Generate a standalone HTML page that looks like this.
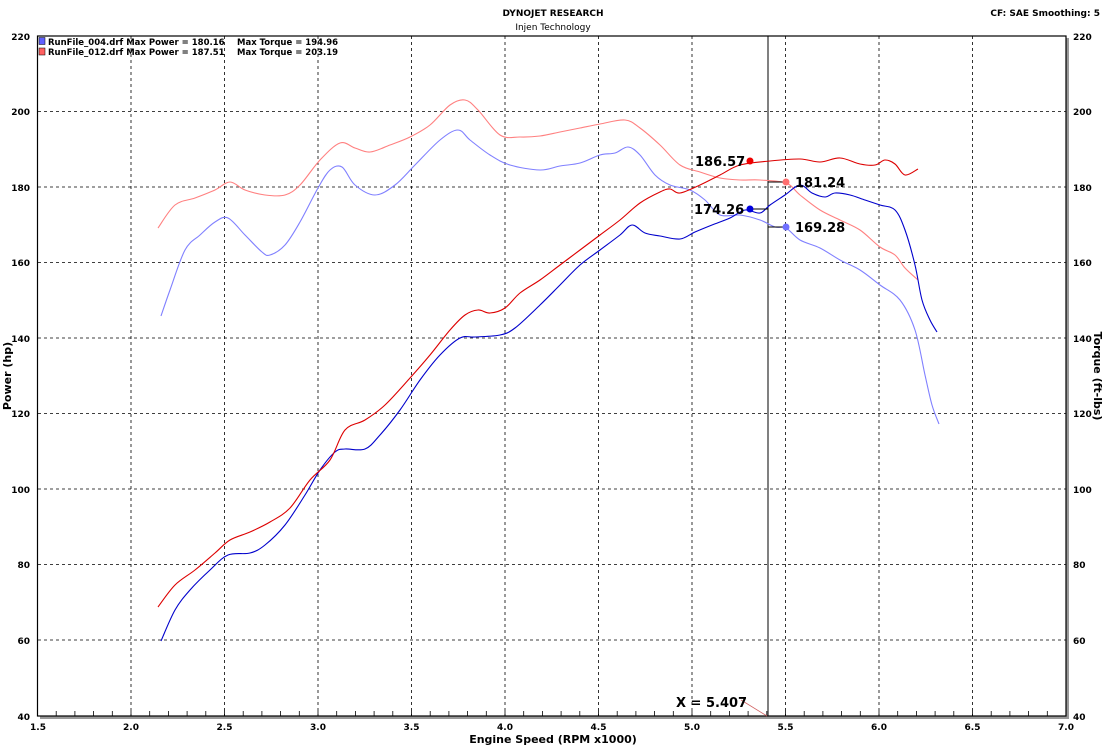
<!DOCTYPE html><html><head><style>body{margin:0;background:#fff}svg{display:block;font-family:"DejaVu Sans","Liberation Sans",sans-serif}</style></head><body>
<svg id="s" width="1108" height="751" viewBox="0 0 1108 751">
<text x="553" y="16" font-size="9" font-weight="bold" text-anchor="middle">DYNOJET RESEARCH</text>
<text x="553" y="30" font-size="9" text-anchor="middle">Injen Technology</text>
<text x="1100" y="16" font-size="9" font-weight="bold" text-anchor="end">CF: SAE  Smoothing: 5</text>
<rect x="40" y="38" width="1029" height="681" fill="#999"/>
<rect x="37.5" y="36" width="1028.5" height="680" fill="#fff" stroke="#000" stroke-width="1.2"/>
<g stroke="#000" stroke-width="0.8" stroke-dasharray="3,3">
<line x1="131" y1="36" x2="131" y2="716"/><line x1="224.5" y1="36" x2="224.5" y2="716"/><line x1="318" y1="36" x2="318" y2="716"/><line x1="411.5" y1="36" x2="411.5" y2="716"/><line x1="505" y1="36" x2="505" y2="716"/><line x1="598.5" y1="36" x2="598.5" y2="716"/><line x1="692" y1="36" x2="692" y2="716"/><line x1="785.5" y1="36" x2="785.5" y2="716"/><line x1="879" y1="36" x2="879" y2="716"/><line x1="972.5" y1="36" x2="972.5" y2="716"/>
<line x1="38" y1="111.5" x2="1066" y2="111.5"/><line x1="38" y1="187" x2="1066" y2="187"/><line x1="38" y1="262.5" x2="1066" y2="262.5"/><line x1="38" y1="338" x2="1066" y2="338"/><line x1="38" y1="413.5" x2="1066" y2="413.5"/><line x1="38" y1="489" x2="1066" y2="489"/><line x1="38" y1="564.5" x2="1066" y2="564.5"/><line x1="38" y1="640" x2="1066" y2="640"/>
</g>
<g id="ticks" stroke="#000" stroke-width="0.8"></g>
<g font-size="9" font-weight="bold" fill="#000">
<text x="30" y="40" text-anchor="end">220</text><text x="30" y="115" text-anchor="end">200</text><text x="30" y="191" text-anchor="end">180</text><text x="30" y="266" text-anchor="end">160</text><text x="30" y="342" text-anchor="end">140</text><text x="30" y="417" text-anchor="end">120</text><text x="30" y="493" text-anchor="end">100</text><text x="30" y="568" text-anchor="end">80</text><text x="30" y="644" text-anchor="end">60</text><text x="30" y="720" text-anchor="end">40</text>
<text x="1073" y="40">220</text><text x="1073" y="115">200</text><text x="1073" y="191">180</text><text x="1073" y="266">160</text><text x="1073" y="342">140</text><text x="1073" y="417">120</text><text x="1073" y="493">100</text><text x="1073" y="568">80</text><text x="1073" y="644">60</text><text x="1073" y="720">40</text>
<g text-anchor="middle"><text x="38" y="730">1.5</text><text x="131" y="730">2.0</text><text x="224.5" y="730">2.5</text><text x="318" y="730">3.0</text><text x="411.5" y="730">3.5</text><text x="505" y="730">4.0</text><text x="598.5" y="730">4.5</text><text x="692" y="730">5.0</text><text x="785.5" y="730">5.5</text><text x="879" y="730">6.0</text><text x="972.5" y="730">6.5</text><text x="1066" y="730">7.0</text></g>
<text x="553" y="743" font-size="11" text-anchor="middle">Engine Speed (RPM x1000)</text>
<text transform="translate(11,376) rotate(-90)" font-size="11" text-anchor="middle">Power (hp)</text>
<text transform="translate(1094,376) rotate(90)" font-size="11" text-anchor="middle">Torque (ft-lbs)</text>
<text x="48" y="45" font-size="8.5">RunFile_004.drf Max Power = 180.16</text><text x="237" y="45" font-size="8.5">Max Torque = 194.96</text>
<text x="48" y="55" font-size="8.5">RunFile_012.drf Max Power = 187.51</text><text x="237" y="55" font-size="8.5">Max Torque = 203.19</text>
</g>
<rect x="39" y="37.5" width="6" height="7" fill="#6060ff" stroke="#000" stroke-width="0.5"/>
<rect x="39" y="48" width="6" height="7" fill="#ff6060" stroke="#000" stroke-width="0.5"/>
<line x1="768" y1="36" x2="768" y2="716" stroke="#000" stroke-width="1"/>
<line x1="741" y1="700" x2="767" y2="716" stroke="#d06060" stroke-width="0.8"/>
<text x="676" y="707" font-size="13" font-weight="bold">X = 5.407</text>
<g id="curves" fill="none" stroke-width="1.1" stroke-linejoin="round">
<polyline stroke="#8080ff" points="161,316 170,290 185,250 200,235 215,222 228,218 245,235 262,252 270,255 285,245 300,222 318,188 330,170 342,167 355,185 375,195 395,185 415,165 440,140 458,130 470,140 490,155 510,165 540,170 560,166 580,163 600,155 615,153 628,147 640,155 655,175 670,185 690,190 705,200 720,215 740,215 760,220 775,227 786,228 800,240 820,248 840,260 860,270 880,285 900,300 915,330 925,375 932,405 939,424"/>
<polyline stroke="#ff8080" points="158,228 175,205 195,198 215,190 230,182 245,190 265,195 285,195 300,185 320,160 340,143 355,148 370,152 390,145 410,137 430,125 450,105 465,100 478,110 500,135 520,137 540,136 560,132 580,128 600,124 625,120 640,128 660,145 680,165 700,172 720,178 740,180 760,180 786,183 800,195 820,210 840,220 860,230 880,247 895,255 905,268 918,280"/>
<polyline stroke="#0000cc" points="161,641 175,610 190,590 210,570 228,555 250,553 265,545 285,525 305,495 320,470 335,452 345,449 365,449 380,435 400,410 420,380 440,355 460,338 475,337 500,335 515,328 540,305 560,285 580,265 600,250 620,235 632,225 645,233 660,236 680,239 695,232 712,225 730,218 745,210 760,213 770,205 785,195 800,185 812,193 825,197 835,193 850,195 865,200 880,205 895,210 905,230 915,265 922,300 930,320 937,332"/>
<polyline stroke="#dd0000" points="158,607 175,585 195,570 215,553 230,540 250,532 270,522 290,508 310,480 330,460 345,430 365,420 385,405 410,378 430,355 450,330 465,315 478,310 490,313 505,308 520,293 540,280 560,265 580,250 600,235 620,220 640,203 660,192 670,189 680,193 700,185 720,175 740,165 770,161 800,159 820,162 840,158 860,164 875,165 885,160 895,164 905,175 918,169"/>
</g>
<line x1="750" y1="209" x2="768" y2="209" stroke="#000"/><line x1="786" y1="227" x2="768" y2="227" stroke="#000"/><line x1="786" y1="182" x2="768" y2="182" stroke="#000"/>
<circle cx="750" cy="161" r="3.5" fill="#ee0000"/><circle cx="786" cy="182" r="3.5" fill="#ff7070"/><circle cx="750" cy="209" r="3.5" fill="#0000dd"/><circle cx="786" cy="227" r="3.5" fill="#7070ff"/>
<g font-size="13" font-weight="bold"><text x="695" y="166">186.57</text><text x="795" y="187">181.24</text><text x="694" y="214">174.26</text><text x="795" y="232">169.28</text></g>
</svg>
<script>
var NS="http://www.w3.org/2000/svg";
var t=document.getElementById("ticks");
for(var i=0;i<=55;i++){var x=37.5+i*18.7;var l=document.createElementNS(NS,"line");l.setAttribute("x1",x);l.setAttribute("x2",x);l.setAttribute("y1",716);l.setAttribute("y2",711);t.appendChild(l);}
document.querySelectorAll("#curves polyline").forEach(function(p){
var a=p.getAttribute("points").trim().split(/\s+/).map(function(s){return s.split(",").map(Number);});
var d="M"+a[0][0]+","+a[0][1];
for(var i=0;i<a.length-1;i++){var p0=a[i-1]||a[i],p1=a[i],p2=a[i+1],p3=a[i+2]||p2;
d+=" C"+(p1[0]+(p2[0]-p0[0])/6)+","+(p1[1]+(p2[1]-p0[1])/6)+" "+(p2[0]-(p3[0]-p1[0])/6)+","+(p2[1]-(p3[1]-p1[1])/6)+" "+p2[0]+","+p2[1];}
var e=document.createElementNS(NS,"path");e.setAttribute("d",d);e.setAttribute("stroke",p.getAttribute("stroke"));p.parentNode.replaceChild(e,p);});
</script>
</body></html>
